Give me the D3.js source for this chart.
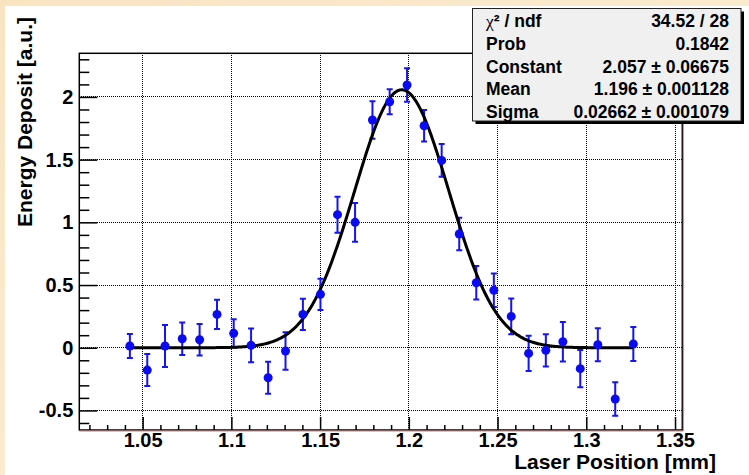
<!DOCTYPE html>
<html>
<head>
<meta charset="utf-8">
<script src="https://cdn.jsdelivr.net/npm/d3@7/dist/d3.min.js"></script>
<style>
	body { margin: 0; background: #fbecd2; }
	svg { display: block; }
	text { font-family: "Liberation Sans", Arial, sans-serif; font-weight: bold; fill: #000; }
	.grid line { stroke: #000; stroke-width: 1; stroke-dasharray: 1,1; shape-rendering: crispEdges; }
	.axis path { display: none; }
	.axis line { stroke: #000; stroke-width: 1.5; }
</style>
</head>
<body>
<svg id="chart" width="749" height="475"></svg>
<script>
// laser position bins (mm)
var positions = [1.0428, 1.0526, 1.0626, 1.0723, 1.0821, 1.0919, 1.1013, 1.1111, 1.1207, 1.1305,
	1.1403, 1.1502, 1.1598, 1.1697, 1.1795, 1.1892, 1.1990, 1.2086, 1.2185, 1.2284,
	1.2380, 1.2479, 1.2577, 1.2675, 1.2772, 1.2868, 1.2966, 1.3065, 1.3163, 1.3265];
// energy deposit (a.u.)
var deposits = [0.014, -0.178, 0.014, 0.072, 0.064, 0.266, 0.115, 0.019, -0.239, -0.026,
	0.266, 0.426, 1.061, 1.000, 1.816, 1.962, 2.095, 1.770, 1.494, 0.907,
	0.518, 0.458, 0.250, -0.045, -0.021, 0.048, -0.167, 0.024, -0.409, 0.030];
var errors = [0.095, 0.128, 0.167, 0.130, 0.125, 0.116, 0.113, 0.134, 0.128, 0.149,
	0.125, 0.125, 0.144, 0.154, 0.149, 0.100, 0.133, 0.125, 0.130, 0.129,
	0.133, 0.134, 0.143, 0.141, 0.128, 0.158, 0.149, 0.132, 0.133, 0.136];

// gaussian fit: constant, mean, sigma
var fitParams = [2.057, 1.196, 0.02662];
var statNames = ['χ² / ndf', 'Prob', 'Constant', 'Mean', 'Sigma'];
var statValues = ['34.52 / 28', '0.1842', '2.057 ± 0.06675', '1.196 ± 0.001128', '0.02662 ± 0.001079'];

var xTicks = [1.05, 1.1, 1.15, 1.2, 1.25, 1.3, 1.35];
var yTicks = [-0.5, 0, 0.5, 1, 1.5, 2];

var svg = d3.select('#chart'),
	frame = {left: 79.3, right: 682.3, top: 53.3, bottom: 430};

// page background: beige border, white canvas
var grad = svg.append('defs').append('linearGradient')
	.attr('id', 'bg').attr('x1', 0).attr('y1', 0).attr('x2', 1).attr('y2', 1);
grad.append('stop').attr('offset', 0).attr('stop-color', '#f9e4c2');
grad.append('stop').attr('offset', 1).attr('stop-color', '#fdf2dc');
svg.append('rect').attr('width', 749).attr('height', 475).attr('fill', 'url(#bg)');
svg.append('rect').attr('x', 5).attr('y', 6).attr('width', 744).attr('height', 469).attr('fill', '#fff');

var x = d3.scaleLinear().domain([1.0143, 1.3541]).range([frame.left, frame.right]);
var y = d3.scaleLinear().domain([-0.656, 2.348]).range([frame.bottom, frame.top]);

// grid
var grid = svg.append('g').attr('class', 'grid');
grid.selectAll('.gx').data(xTicks).enter().append('line')
	.attr('x1', function(d) { return x(d); }).attr('x2', function(d) { return x(d); })
	.attr('y1', frame.top).attr('y2', frame.bottom);
grid.selectAll('.gy').data(yTicks).enter().append('line')
	.attr('y1', function(d) { return y(d); }).attr('y2', function(d) { return y(d); })
	.attr('x1', frame.left).attr('x2', frame.right);

// axes
var xMinor = d3.range(1.02, 1.355, 0.01).filter(function(v) {
	return Math.abs(v * 20 - Math.round(v * 20)) > 1e-6;
});
var yMinor = d3.range(-0.6, 2.35, 0.1).filter(function(v) {
	return Math.abs(v * 2 - Math.round(v * 2)) > 1e-6;
});
var plain = function(d) { return String(d); };

svg.append('g').attr('class', 'axis')
	.attr('transform', 'translate(0,' + frame.bottom + ')')
	.call(d3.axisBottom(x).tickValues(xMinor).tickSize(-5).tickFormat(''));
svg.append('g').attr('class', 'axis')
	.attr('transform', 'translate(0,' + frame.bottom + ')')
	.call(d3.axisBottom(x).tickValues(xTicks).tickSize(-13).tickPadding(3).tickFormat(plain))
	.selectAll('text').style('font-size', '20px').attr('fill', '#000');

svg.append('g').attr('class', 'axis')
	.attr('transform', 'translate(' + frame.left + ',0)')
	.call(d3.axisLeft(y).tickValues(yMinor).tickSize(-10).tickFormat(''));
svg.append('g').attr('class', 'axis')
	.attr('transform', 'translate(' + frame.left + ',0)')
	.call(d3.axisLeft(y).tickValues(yTicks).tickSize(-18).tickPadding(6).tickFormat(plain))
	.selectAll('text').style('font-size', '20px').attr('fill', '#000');

// frame
svg.append('rect')
	.attr('x', frame.left).attr('y', frame.top)
	.attr('width', frame.right - frame.left).attr('height', frame.bottom - frame.top)
	.attr('fill', 'none').attr('stroke', '#000').attr('stroke-width', 1.5);
svg.append('polyline')
	.attr('points', (frame.right + 1) + ',' + frame.top + ' ' + (frame.right + 1) + ',' + (frame.bottom + 1) + ' ' + frame.left + ',' + (frame.bottom + 1))
	.attr('fill', 'none').attr('stroke', '#c08080').attr('stroke-width', 1);

// data points with error bars
var pts = positions.map(function(p, i) { return {x: p, y: deposits[i], e: errors[i]}; });
var bars = svg.append('g').attr('stroke', '#1414f5').attr('stroke-width', 2);
bars.selectAll('.eb').data(pts).enter().append('path')
	.attr('fill', 'none')
	.attr('d', function(d) {
		var cx = x(d.x), t = y(d.y + d.e), b = y(d.y - d.e);
		return 'M' + (cx - 3) + ',' + t + 'H' + (cx + 3) +
			'M' + cx + ',' + t + 'V' + b +
			'M' + (cx - 3) + ',' + b + 'H' + (cx + 3);
	});

// fit curve
var g = fitParams;
var fx = d3.range(positions[0], positions[positions.length - 1] + 1e-9, 0.0005);
var line = d3.line()
	.x(function(v) { return x(v); })
	.y(function(v) { return y(g[0] * Math.exp(-0.5 * Math.pow((v - g[1]) / g[2], 2))); });
svg.append('path').datum(fx)
	.attr('d', line)
	.attr('fill', 'none').attr('stroke', '#000').attr('stroke-width', 3);

svg.append('g').selectAll('circle').data(pts).enter().append('circle')
	.attr('cx', function(d) { return x(d.x); })
	.attr('cy', function(d) { return y(d.y); })
	.attr('r', 4.5)
	.attr('fill', '#0a0af5');

// axis titles
svg.append('text')
	.attr('x', 716).attr('y', 469)
	.attr('text-anchor', 'end')
	.style('font-size', '21px')
	.text('Laser Position [mm]');
svg.append('text')
	.attr('transform', 'translate(32,17) rotate(-90)')
	.attr('text-anchor', 'end')
	.style('font-size', '21px')
	.text('Energy Deposit [a.u.]');

// stats box
var box = {x: 472.5, y: 8.5, w: 268.5, h: 112.5};
svg.append('rect')
	.attr('x', box.x + 3).attr('y', box.y + 3).attr('width', box.w).attr('height', box.h)
	.attr('fill', '#000');
svg.append('rect')
	.attr('x', box.x).attr('y', box.y).attr('width', box.w).attr('height', box.h)
	.attr('fill', '#f0f0f0').attr('stroke', '#222').attr('stroke-width', 1);

var rowY = d3.scalePoint().domain(d3.range(statNames.length)).range([20.7, 111.7]);
var names = svg.append('g').selectAll('text').data(statNames).enter().append('text')
	.attr('x', 486)
	.attr('y', function(d, i) { return rowY(i) + 6.3; })
	.style('font-size', '17.5px');
names.each(function(d) {
	var t = d3.select(this);
	if (d.charAt(0) === 'χ') {
		t.append('tspan').style('font-family', '"Liberation Serif", serif').style('font-weight', 'normal').text('χ');
		t.append('tspan').text(d.slice(1));
	} else {
		t.text(d);
	}
});
svg.append('g').selectAll('text').data(statValues).enter().append('text')
	.attr('x', 729)
	.attr('y', function(d, i) { return rowY(i) + 6.3; })
	.attr('text-anchor', 'end')
	.style('font-size', '17.5px')
	.text(function(d) { return d; });
</script>
</body>
</html>
